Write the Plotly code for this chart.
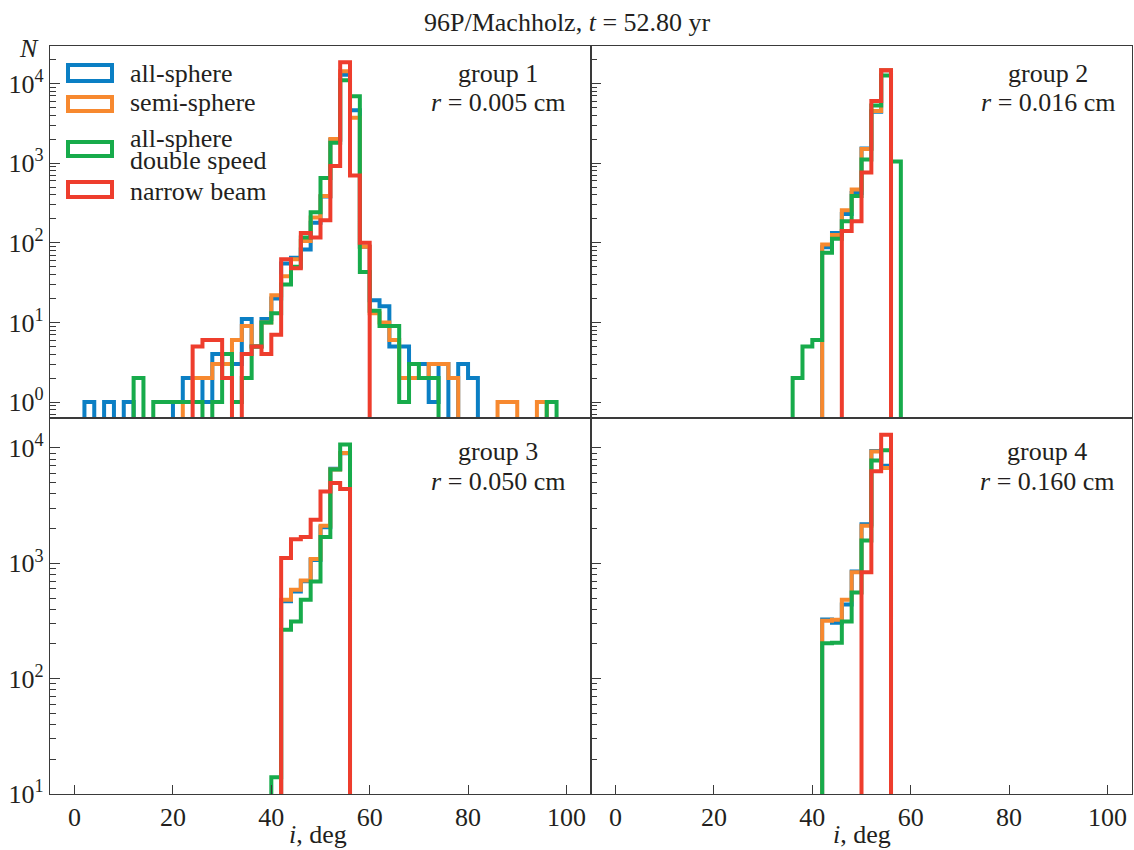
import plotly.graph_objects as go
from plotly.subplots import make_subplots

W, H = 1134, 850
ML, MR, MT, MB = 50, 2, 46, 56
PW = W - ML - MR
PH = H - MT - MB
FONT = "Liberation Serif"
TXT = "#231f20"
FS = 26


def px(x):
    return (x - ML) / PW


def py(y):
    return (H - MB - y) / PH


BIN_WIDTH = 2
FLOOR = 1e-3

series_names = ["all-sphere", "semi-sphere", "all-sphere<br>double speed", "narrow beam"]
colors = ["#0b7fc4", "#f7892f", "#17ab4b", "#ee3d2d"]

# ---- group 1, r = 0.005 cm (bins of 2 deg starting at 2 deg)
g1_start = 2
g1_blue = [1, 0, 1, 0, 1, 0, 0, 0, 0, 1,
           2, 2, 1, 4, 3, 3, 11, 5, 11, 20,
           55, 65, 82, 178, 380, 1950, 12900, 4600, 89, 19,
           16, 5, 5, 3, 3, 1, 3, 0, 3, 2,
           0, 0, 0, 0, 0, 0, 0, 0]
g1_orange = [0, 0, 0, 0, 0, 0, 0, 0, 0, 0,
             1, 2, 2, 3, 3, 6, 9, 5, 10, 22,
             38, 62, 105, 207, 385, 2000, 14200, 3700, 89, 13,
             10, 6, 2, 2, 2, 3, 3, 2, 0, 0,
             0, 0, 1, 1, 0, 0, 1, 0]
g1_green = [0, 0, 0, 0, 0, 2, 0, 1, 1, 1,
            1, 1, 0, 1, 4, 1, 2, 5, 10, 13,
            30, 50, 116, 242, 650, 1800, 11000, 6900, 43, 14,
            9, 9, 1, 3, 2, 2, 0, 0, 0, 0,
            0, 0, 0, 0, 0, 0, 0, 1]
g1_red = [0, 0, 0, 0, 0, 0, 0, 0, 0, 0,
          0, 5, 6, 6, 2, 0, 4, 5, 4, 7,
          62, 48, 133, 116, 192, 920, 18400, 700, 100, 0,
          0, 0, 0, 0, 0, 0, 0, 0, 0, 0,
          0, 0, 0, 0, 0, 0, 0, 0]

# ---- group 2, r = 0.016 cm (bins start at 36 deg)
g2_start = 36
g2_blue = [0, 0, 0, 88, 133, 230, 420, 1530, 4400, 14600, 0]
g2_orange = [0, 0, 0, 95, 125, 256, 466, 1500, 4500, 14600, 0]
g2_green = [2, 5, 6, 75, 112, 186, 385, 1110, 5300, 12600, 1050]
g2_red = [0, 0, 0, 0, 0, 140, 186, 760, 6000, 14600, 0]

# ---- group 3, r = 0.050 cm (bins start at 40 deg)
g3_start = 40
g3_blue = [0, 470, 570, 700, 1070, 2050, 6600, 9000]
g3_orange = [0, 483, 590, 710, 1090, 2120, 6500, 9050]
g3_green = [14, 265, 313, 483, 697, 1690, 6500, 10700]
g3_red = [0, 1110, 1620, 1690, 2390, 4200, 4980, 4400]

# ---- group 4, r = 0.160 cm (bins start at 42 deg)
g4_start = 42
g4_blue = [325, 305, 440, 850, 2180, 9400, 7000]
g4_orange = [318, 324, 483, 835, 2120, 9300, 6700]
g4_green = [203, 205, 313, 558, 1580, 7800, 9550]
g4_red = [0, 0, 0, 0, 835, 6300, 13000]

groups = [
    dict(row=1, col=1, start=g1_start, data=[g1_blue, g1_orange, g1_green, g1_red],
         label="group 1", radius="0.005"),
    dict(row=1, col=2, start=g2_start, data=[g2_blue, g2_orange, g2_green, g2_red],
         label="group 2", radius="0.016"),
    dict(row=2, col=1, start=g3_start, data=[g3_blue, g3_orange, g3_green, g3_red],
         label="group 3", radius="0.050"),
    dict(row=2, col=2, start=g4_start, data=[g4_blue, g4_orange, g4_green, g4_red],
         label="group 4", radius="0.160"),
]

x_ticks = [0, 20, 40, 60, 80, 100]
top_major_exp = [0, 1, 2, 3, 4]
bottom_major_exp = [1, 2, 3, 4]


def step_xy(start, counts):
    edges = [start + BIN_WIDTH * k for k in range(len(counts) + 1)]
    xs = [edges[0]] + edges[:-1] + [edges[-1]]
    ys = [FLOOR] + [c if c > 0 else FLOOR for c in counts] + [FLOOR]
    return xs, ys


def minor_vals(lo_exp, hi_exp):
    vals = []
    for e in range(lo_exp, hi_exp + 1):
        for m in range(2, 10):
            vals.append(m * 10.0 ** e)
    return vals


fig = make_subplots(rows=2, cols=2, horizontal_spacing=0, vertical_spacing=0,
                    row_heights=[372, 376])

for g in groups:
    for name, color, counts in zip(series_names, colors, g["data"]):
        xs, ys = step_xy(g["start"], counts)
        fig.add_trace(go.Scatter(x=xs, y=ys, mode="lines", line_shape="hv",
                                 line=dict(color=color, width=4),
                                 name=name, showlegend=False, hoverinfo="skip"),
                      row=g["row"], col=g["col"])

axis_line = dict(showline=True, mirror=True, linecolor="#3a3a3a", linewidth=1.2,
                 showgrid=False, zeroline=False)

for g in groups:
    r, c = g["row"], g["col"]
    bottom = r == 2
    left = c == 1
    fig.update_xaxes(range=[-5, 105], tickvals=x_ticks,
                     ticks="inside" if bottom else "", ticklen=9, tickwidth=1.3,
                     tickcolor="#3a3a3a",
                     showticklabels=bottom,
                     tickfont=dict(family=FONT, size=FS, color=TXT),
                     row=r, col=c, **axis_line)
    if r == 1:
        exps = top_major_exp
        yr = [-0.2, 4.47]
        minors = minor_vals(-1, 4)
    else:
        exps = bottom_major_exp
        yr = [1.0, 4.26]
        minors = minor_vals(1, 4)
    fig.update_yaxes(type="log", range=yr, tickvals=[10.0 ** e for e in exps],
                     ticktext=["10<sup>%d</sup>" % e for e in exps],
                     ticks="inside", ticklen=10, tickwidth=1.3, tickcolor="#3a3a3a",
                     showticklabels=left,
                     tickfont=dict(family=FONT, size=FS, color=TXT),
                     minor=dict(ticks="inside", ticklen=6, tickwidth=1.1,
                                tickcolor="#3a3a3a", tickmode="array", tickvals=minors),
                     row=r, col=c, **axis_line)

annotations = []


def add_text(text, x, y, size=FS, xanchor="center"):
    annotations.append(dict(text=text, x=px(x), y=py(y), xref="paper", yref="paper",
                            xanchor=xanchor, yanchor="middle", showarrow=False,
                            font=dict(family=FONT, size=size, color=TXT)))


# title and axis labels
add_text("96P/Machholz, <i>t</i> = 52.80 yr", 567, 22)
add_text("<i>N</i>", 29, 48)
add_text("<i>i</i>, deg", 318, 834)
add_text("<i>i</i>, deg", 862, 834)

# group labels
label_pos = {(1, 1): (498, 73, 103), (1, 2): (1048, 73, 103),
             (2, 1): (498, 452, 481), (2, 2): (1047, 452, 481)}
for g in groups:
    x0, y1, y2 = label_pos[(g["row"], g["col"])]
    add_text(g["label"], x0, y1)
    add_text("<i>r</i> = %s cm" % g["radius"], x0, y2)

# legend (drawn manually: outlined rectangles like step-histogram patches)
shapes = []
legend_rects = [(65, 81), (97, 111), (142, 156), (182, 197)]
legend_text_y = [73, 103, None, 191]
for i, (name, color) in enumerate(zip(series_names, colors)):
    y0, y1 = legend_rects[i]
    shapes.append(dict(type="rect", xref="paper", yref="paper",
                       x0=px(68), x1=px(112), y0=py(y1), y1=py(y0),
                       line=dict(color=color, width=4), fillcolor="rgba(0,0,0,0)"))
    if legend_text_y[i] is not None:
        add_text(name, 128, legend_text_y[i], xanchor="left")
add_text("all-sphere", 128, 138, xanchor="left")
add_text("double speed", 128, 161, xanchor="left")

fig.update_layout(width=W, height=H, margin=dict(l=ML, r=MR, t=MT, b=MB),
                  paper_bgcolor="white", plot_bgcolor="white",
                  showlegend=False, annotations=annotations, shapes=shapes,
                  font=dict(family=FONT, color=TXT))

fig.write_html("out.html")
